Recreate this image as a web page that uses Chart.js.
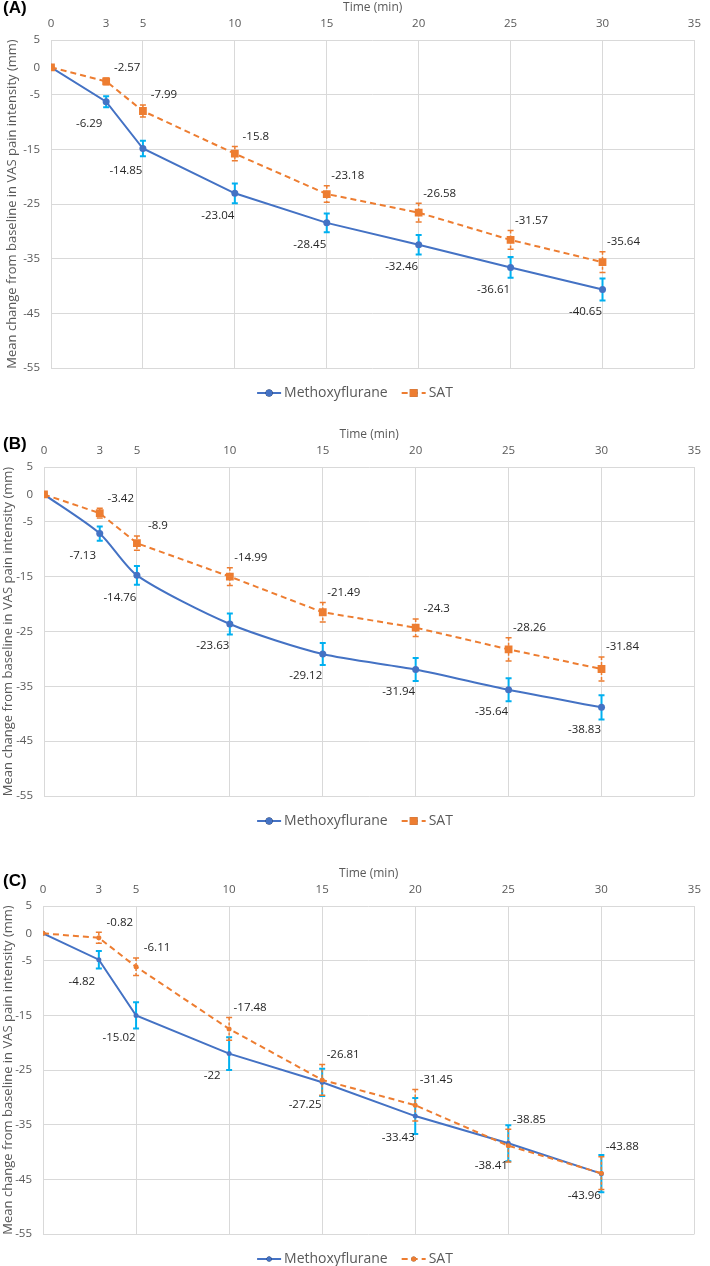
<!DOCTYPE html>
<html>
<head>
<meta charset="utf-8">
<script src="https://cdn.jsdelivr.net/npm/chart.js@4.4.1/dist/chart.umd.min.js"></script>
<style>
    body { margin: 0; background: #fff; width: 710px; height: 1266px; position: relative; overflow: hidden; }
    .panel { position: absolute; left: 0; width: 710px; }
    .tag { position: absolute; left: 3px; font: bold 17px 'Liberation Sans', Arial, sans-serif; color: #000; z-index: 2; }
</style>
</head>
<body>
<div class="tag" style="top:-2px">(A)</div>
<div class="panel" style="top:0;height:427px"><canvas id="chartA"></canvas></div>
<div class="tag" style="top:434px">(B)</div>
<div class="panel" style="top:427px;height:439px"><canvas id="chartB"></canvas></div>
<div class="tag" style="top:871px">(C)</div>
<div class="panel" style="top:866px;height:400px"><canvas id="chartC"></canvas></div>
<script>
const times = [0, 3, 5, 10, 15, 20, 25, 30];
const xTicks = [0, 3, 5, 10, 15, 20, 25, 30, 35];
const yTicks = [-55, -45, -35, -25, -15, -5, 0, 5];

// (A)
const methoxyA = [0, -6.29, -14.85, -23.04, -28.45, -32.46, -36.61, -40.65];
const methoxyErrA = [0, 1.0, 1.4, 1.8, 1.7, 1.8, 1.9, 2.0];
const satA = [0, -2.57, -7.99, -15.8, -23.18, -26.58, -31.57, -35.64];
const satErrA = [0, 0.6, 1.1, 1.3, 1.5, 1.7, 1.7, 1.9];

// (B)
const methoxyB = [0, -7.13, -14.76, -23.63, -29.12, -31.94, -35.64, -38.83];
const methoxyErrB = [0, 1.3, 1.7, 1.9, 2.0, 2.1, 2.1, 2.2];
const satB = [0, -3.42, -8.9, -14.99, -21.49, -24.3, -28.26, -31.84];
const satErrB = [0, 0.9, 1.3, 1.6, 1.8, 1.6, 2.1, 2.2];

// (C)
const methoxyC = [0, -4.82, -15.02, -22, -27.25, -33.43, -38.41, -43.96];
const methoxyErrC = [0, 1.6, 2.4, 3.0, 2.5, 3.3, 3.3, 3.4];
const satC = [0, -0.82, -6.11, -17.48, -26.81, -31.45, -38.85, -43.88];
const satErrC = [0, 1.0, 1.6, 2.1, 2.8, 2.9, 3.0, 3.0];

const BLUE = '#4472C4', ORANGE = '#ED7D31', CYAN = '#00B0F0', GRID = '#d9d9d9', TEXT = '#595959';
const FONT = "'Open Sans', sans-serif";

const extras = {
    id: 'extras',
    beforeDatasetsDraw(chart) {
        const { ctx, scales: { y } } = chart;
        chart.data.datasets.forEach((ds, i) => {
            const meta = chart.getDatasetMeta(i);
            ctx.save();
            ctx.strokeStyle = ds.errorColor;
            ctx.lineWidth = ds.errorWidth;
            meta.data.forEach((pt, j) => {
                const e = ds.errors[j];
                if (!e) return;
                const v = ds.data[j].y;
                const top = y.getPixelForValue(v + e), bot = y.getPixelForValue(v - e);
                ctx.setLineDash(ds.errorDash);
                ctx.beginPath();
                ctx.moveTo(pt.x, top); ctx.lineTo(pt.x, bot);
                ctx.stroke();
                ctx.setLineDash([]);
                ctx.beginPath();
                ctx.moveTo(pt.x - 3, top); ctx.lineTo(pt.x + 3, top);
                ctx.moveTo(pt.x - 3, bot); ctx.lineTo(pt.x + 3, bot);
                ctx.stroke();
            });
            ctx.restore();
        });
    },
    afterDatasetsDraw(chart) {
        const { ctx, scales: { y } } = chart;
        ctx.save();
        ctx.font = '11.5px ' + FONT;
        ctx.fillStyle = '#262626';
        ctx.textAlign = 'center';
        ctx.textBaseline = 'middle';
        chart.data.datasets.forEach((ds, i) => {
            const meta = chart.getDatasetMeta(i);
            meta.data.forEach((pt, j) => {
                if (j === 0) return;
                const v = ds.data[j].y;
                if (ds.labelAbove) {
                    const top = y.getPixelForValue(v + ds.errors[j]);
                    ctx.fillText(String(v), pt.x + 21, top - 10);
                } else {
                    ctx.fillText(String(v), pt.x - 17, pt.y + 22);
                }
            });
        });
        ctx.restore();
    },
    afterDraw(chart) {
        const { ctx, chartArea } = chart;
        const ly = chartArea.bottom + 25;
        ctx.save();
        ctx.font = '14px ' + FONT;
        ctx.textBaseline = 'middle';
        const items = chart.data.datasets.map(ds => ({ ds, w: ctx.measureText(ds.label).width }));
        const iconW = 24, gap = 3, spacing = 14;
        const total = items.reduce((s, it) => s + iconW + gap + it.w, 0) + spacing * (items.length - 1);
        let x = chart.width / 2 - total / 2;
        items.forEach(({ ds, w }) => {
            ctx.strokeStyle = ds.borderColor;
            ctx.lineWidth = 2;
            ctx.setLineDash(ds.borderDash || []);
            ctx.beginPath(); ctx.moveTo(x, ly); ctx.lineTo(x + iconW, ly); ctx.stroke();
            ctx.setLineDash([]);
            Chart.helpers.drawPoint(ctx, { pointStyle: ds.pointStyle, radius: ds.pointRadius, borderWidth: 0 }, x + iconW / 2, ly);
            ctx.fillStyle = ds.backgroundColor;
            ctx.fill();
            ctx.fillStyle = TEXT;
            ctx.textAlign = 'left';
            ctx.fillText(ds.label, x + iconW + gap, ly);
            x += iconW + gap + w + spacing;
        });
        ctx.restore();
    }
};

function makeChart(id, p) {
    const pts = arr => times.map((t, i) => ({ x: t, y: arr[i] }));
    new Chart(document.getElementById(id), {
        type: 'line',
        data: {
            datasets: [
                {
                    label: 'Methoxyflurane',
                    data: pts(p.methoxy),
                    errors: p.methoxyErr,
                    borderColor: BLUE,
                    backgroundColor: BLUE,
                    borderWidth: 2,
                    tension: p.tension,
                    pointStyle: 'circle',
                    pointRadius: p.circleR,
                    pointBorderWidth: 0,
                    errorColor: CYAN,
                    errorWidth: 2,
                    errorDash: [],
                    labelAbove: false,
                    order: 1,
                },
                {
                    label: 'SAT',
                    data: pts(p.sat),
                    errors: p.satErr,
                    borderColor: ORANGE,
                    backgroundColor: ORANGE,
                    borderWidth: 2,
                    borderDash: [6, 4],
                    tension: 0,
                    pointStyle: p.satStyle,
                    pointRadius: p.satR,
                    pointBorderWidth: 0,
                    errorColor: ORANGE,
                    errorWidth: 1.5,
                    errorDash: [3, 2],
                    labelAbove: true,
                    order: 0,
                },
            ],
        },
        options: {
            responsive: true,
            maintainAspectRatio: false,
            animation: false,
            events: [],
            layout: { padding: { top: 0, right: p.right, bottom: p.bottom, left: 0 } },
            plugins: { legend: { display: false }, tooltip: { enabled: false } },
            scales: {
                x: {
                    type: 'linear',
                    position: 'top',
                    min: 0,
                    max: 35,
                    afterBuildTicks: s => { s.ticks = xTicks.map(v => ({ value: v })); },
                    afterFit: s => { s.height = 40; },
                    grid: { color: c => (c.tick && c.tick.value === 3 ? 'rgba(0,0,0,0)' : GRID), drawTicks: false, lineWidth: 1 },
                    border: { display: false },
                    ticks: { padding: 9, color: TEXT, font: { family: FONT, size: 11.5 }, autoSkip: false, maxRotation: 0 },
                    title: { display: true, text: 'Time (min)', color: TEXT, font: { family: FONT, size: 12 }, padding: 0 },
                },
                y: {
                    type: 'linear',
                    min: -55,
                    max: 5,
                    afterBuildTicks: s => { s.ticks = yTicks.map(v => ({ value: v })); },
                    afterFit: s => { s.width = p.left; },
                    grid: { color: c => (c.tick && c.tick.value === 0 ? 'rgba(0,0,0,0)' : GRID), drawTicks: false, lineWidth: 1 },
                    border: { display: false },
                    ticks: { padding: 11, color: TEXT, font: { family: FONT, size: 11.5 }, autoSkip: false },
                    title: {
                        display: true,
                        text: 'Mean change from baseline in VAS pain intensity (mm)',
                        color: TEXT,
                        font: { family: FONT, size: 13 },
                        padding: { top: p.yTitlePad, bottom: 0 },
                    },
                },
            },
        },
        plugins: [extras],
    });
}

makeChart('chartA', {
    methoxy: methoxyA, methoxyErr: methoxyErrA, sat: satA, satErr: satErrA,
    left: 51, right: 7, bottom: 59, yTitlePad: 4, tension: 0,
    circleR: 3.5, satStyle: 'rect', satR: 5.5,
});
makeChart('chartB', {
    methoxy: methoxyB, methoxyErr: methoxyErrB, sat: satB, satErr: satErrB,
    left: 44, right: 12, bottom: 70, yTitlePad: 0, tension: 0.25,
    circleR: 3.5, satStyle: 'rect', satR: 5.5,
});
makeChart('chartC', {
    methoxy: methoxyC, methoxyErr: methoxyErrC, sat: satC, satErr: satErrC,
    left: 43, right: 13, bottom: 32, yTitlePad: 0, tension: 0,
    circleR: 2.5, satStyle: 'circle', satR: 2.5,
});
</script>
</body>
</html>
